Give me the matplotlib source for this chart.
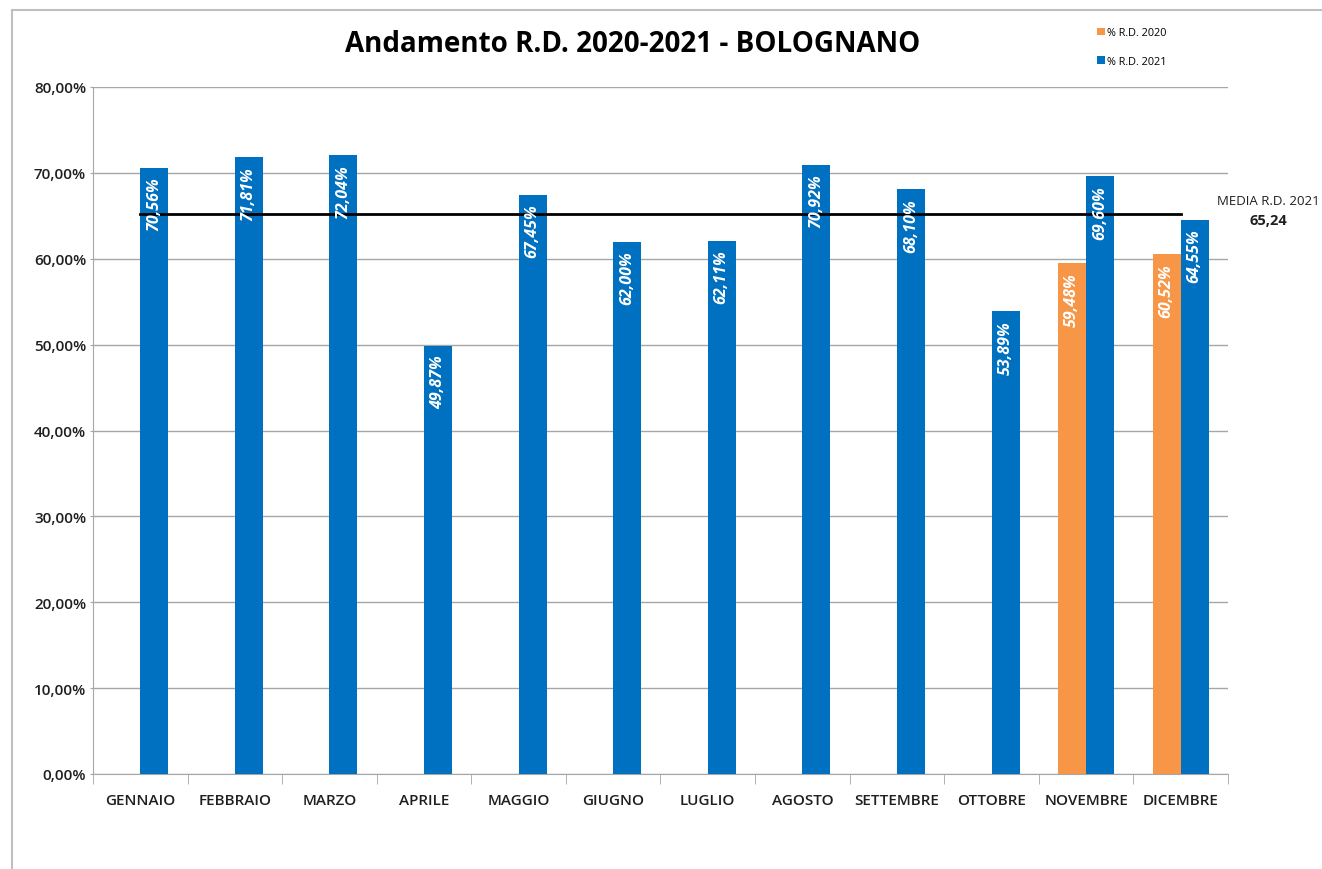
import numpy as np
import matplotlib
matplotlib.use("Agg")
import matplotlib.pyplot as plt
from matplotlib.patches import Rectangle
from matplotlib.ticker import FuncFormatter, MultipleLocator

plt.rcParams["font.family"] = ["Open Sans", "DejaVu Sans"]

MESI = ["GENNAIO", "FEBBRAIO", "MARZO", "APRILE", "MAGGIO", "GIUGNO",
        "LUGLIO", "AGOSTO", "SETTEMBRE", "OTTOBRE", "NOVEMBRE", "DICEMBRE"]
RD_2020 = [np.nan] * 10 + [59.48, 60.52]
RD_2021 = [70.56, 71.81, 72.04, 49.87, 67.45, 62.00,
           62.11, 70.92, 68.10, 53.89, 69.60, 64.55]
MEDIA_2021 = 65.24

BLUE = "#0070C0"
ORANGE = "#F79646"
GRID = "#A6A6A6"
TEXT = "#1F1F1F"
BAR_W = 0.296


def fmt_it(v, decimals=2):
    return f"{v:.{decimals}f}".replace(".", ",")


fig = plt.figure(figsize=(13.22, 8.70), dpi=100)
ax = fig.add_axes([93 / 1322, 95 / 870, (1228 - 93) / 1322, (775 - 88) / 870])

# frame around the chart area
fig.patches.append(Rectangle((12 / 1322, -0.05), 1.1, 1 - 11 / 870 + 0.05,
                             transform=fig.transFigure, fill=False,
                             edgecolor="#BFBFBF", linewidth=1.5))

x = np.arange(len(MESI))
b20 = ax.bar(x - BAR_W / 2, RD_2020, BAR_W, color=ORANGE, label="% R.D. 2020", zorder=3)
b21 = ax.bar(x + BAR_W / 2, RD_2021, BAR_W, color=BLUE, label="% R.D. 2021", zorder=3)

for bars, vals in ((b20, RD_2020), (b21, RD_2021)):
    for rect, v in zip(bars, vals):
        if np.isnan(v):
            continue
        ax.text(rect.get_x() + rect.get_width() / 2, v - 1.0, fmt_it(v) + "%",
                rotation=90, ha="center", va="top", color="white",
                fontsize=11.5, fontweight="bold", fontstyle="italic", zorder=5)

ax.plot(x, [MEDIA_2021] * len(x), color="black", linewidth=2, zorder=4)
ax.text(11.93, MEDIA_2021 + 1.6, "MEDIA R.D. 2021", ha="center", va="center",
        fontsize=9.5, color=TEXT, clip_on=False)
ax.text(11.93, MEDIA_2021 - 0.7, fmt_it(MEDIA_2021), ha="center", va="center",
        fontsize=10.5, fontweight="bold", color=TEXT, clip_on=False)

ax.set_xlim(-0.5, len(MESI) - 0.5)
ax.set_ylim(0, 80)
ax.yaxis.set_major_locator(MultipleLocator(10))
ax.yaxis.set_major_formatter(FuncFormatter(lambda v, _: fmt_it(v) + "%"))
ax.set_xticks(x)
ax.set_xticklabels(MESI, fontweight="semibold")
ax.set_xticks(np.arange(-0.5, len(MESI)), minor=True)
ax.tick_params(axis="x", which="major", length=0, pad=14, labelsize=11, labelcolor=TEXT)
ax.tick_params(axis="x", which="minor", length=7, color=GRID, direction="out")
ax.tick_params(axis="y", length=2, color=GRID, labelsize=11, labelcolor=TEXT, pad=3)
for lbl in ax.get_yticklabels():
    lbl.set_fontweight("semibold")

ax.grid(axis="y", color=GRID, linewidth=1, zorder=0)
for side in ("top", "right"):
    ax.spines[side].set_visible(False)
for side in ("left", "bottom"):
    ax.spines[side].set_color(GRID)

fig.text(633 / 1322, 1 - 45 / 870, "Andamento R.D. 2020-2021 - BOLOGNANO",
         ha="center", va="center", fontsize=20, fontweight="bold", color="black")

fig.legend(handles=[b20, b21], loc="upper left",
           bbox_to_anchor=(1092 / 1322, 1 - 23 / 870), frameon=False,
           fontsize=7.8, handlelength=0.7, handleheight=0.7, handletextpad=0.2,
           labelspacing=1.6, borderpad=0)

fig.savefig("out.png", dpi=100)
